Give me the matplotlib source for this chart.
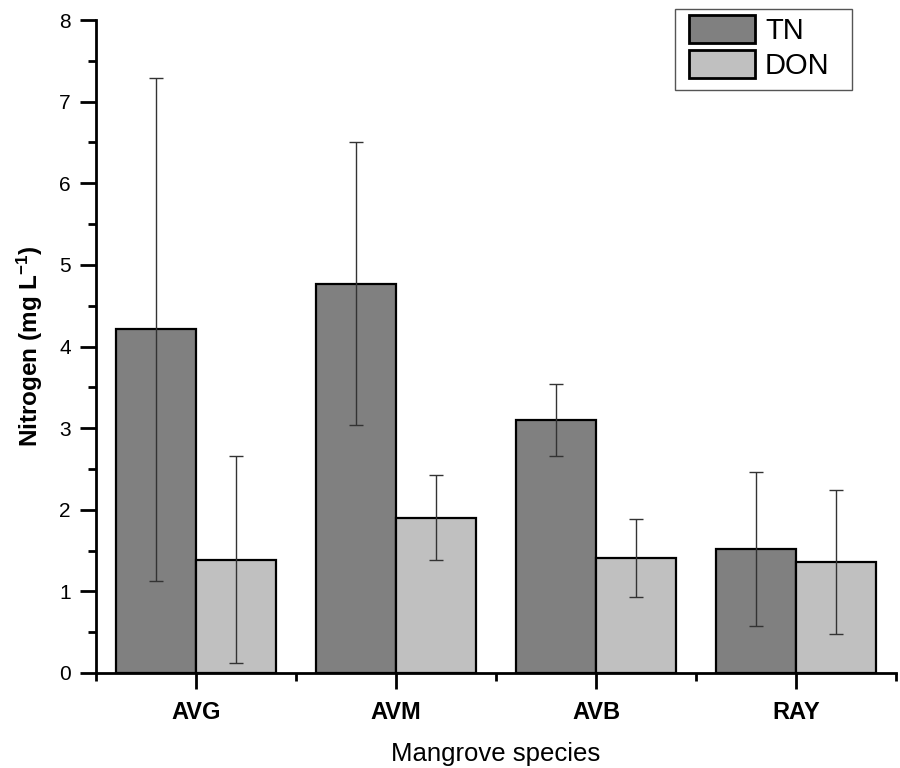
import numpy as np
import matplotlib
matplotlib.use('Agg')
import matplotlib.pyplot as plt
from matplotlib.ticker import MultipleLocator, FixedLocator
from matplotlib.patches import Rectangle

plt.rcParams['font.family'] = ['Liberation Sans', 'DejaVu Sans']
plt.rcParams['mathtext.default'] = 'regular'

# DATA
species = ['AVG', 'AVM', 'AVB', 'RAY']
tn_mean = [4.21, 4.77, 3.10, 1.52]
tn_err = [3.08, 1.73, 0.44, 0.94]
don_mean = [1.39, 1.90, 1.41, 1.36]
don_err = [1.27, 0.52, 0.48, 0.88]


def main():

    W, H = 900, 768
    fig = plt.figure(figsize=(W/100, H/100), dpi=100)
    ax1 = fig.add_axes([96/W, 1-673/H, 800/W, 653/H])

    x = np.arange(1, len(species) + 1)
    width = 0.4

    ax1.bar(x - width/2, tn_mean, width, color='#808080', edgecolor='black',
            linewidth=1.6, label='TN', zorder=2)
    ax1.bar(x + width/2, don_mean, width, color='#c0c0c0', edgecolor='black',
            linewidth=1.6, label='DON', zorder=2)

    ax1.errorbar(x - width/2, tn_mean, yerr=tn_err, fmt='none', ecolor='#333333',
                 elinewidth=1, capsize=4.7, capthick=1, zorder=3)
    ax1.errorbar(x + width/2, don_mean, yerr=don_err, fmt='none', ecolor='#333333',
                 elinewidth=1, capsize=4.7, capthick=1, zorder=3)

    ax1.set_xlim(0.5, 4.5)
    ax1.set_ylim(0, 8)

    ax1.spines['top'].set_visible(False)
    ax1.spines['right'].set_visible(False)
    ax1.spines['left'].set_linewidth(2)
    ax1.spines['bottom'].set_linewidth(2)

    ax1.set_xticks(x)
    ax1.xaxis.set_minor_locator(FixedLocator([0.5, 1.5, 2.5, 3.5, 4.5]))
    ax1.yaxis.set_major_locator(MultipleLocator(1))
    ax1.yaxis.set_minor_locator(MultipleLocator(0.5))

    ax1.tick_params(axis='both', which='major', direction='out', length=11.5,
                    width=2, labelsize=15, pad=6.5)
    ax1.tick_params(axis='both', which='minor', direction='out', length=5.5, width=2)
    ax1.tick_params(axis='x', which='major', pad=8.5)
    ax1.set_xticklabels(species, fontsize=17, fontweight='bold')

    ax1.set_xlabel('Mangrove species', fontsize=18.5, labelpad=13)
    ax1.set_ylabel('Nitrogen (mg L$^{-1}$)', fontsize=17.5, fontweight='bold', labelpad=10)

    # legend without frame, frame drawn separately
    fs = 21
    fpx = fs * 100 / 72
    leg = ax1.legend(loc='upper left', bbox_to_anchor=(689/W, 1-15/H),
                     bbox_transform=fig.transFigure, fontsize=fs,
                     frameon=False, handlelength=66/fpx, handleheight=32/fpx,
                     handletextpad=10/fpx, borderpad=0, labelspacing=5/fpx,
                     borderaxespad=0)
    for p in leg.get_patches():
        p.set_linewidth(2)
    fig.patches.append(Rectangle((675/W, 1-90/H), 177/W, 81/H, transform=fig.transFigure,
                                 fill=False, edgecolor='#555555', linewidth=1, zorder=1))

    plt.savefig('out.png', dpi=100)
    plt.close()


if __name__ == "__main__":
    main()
